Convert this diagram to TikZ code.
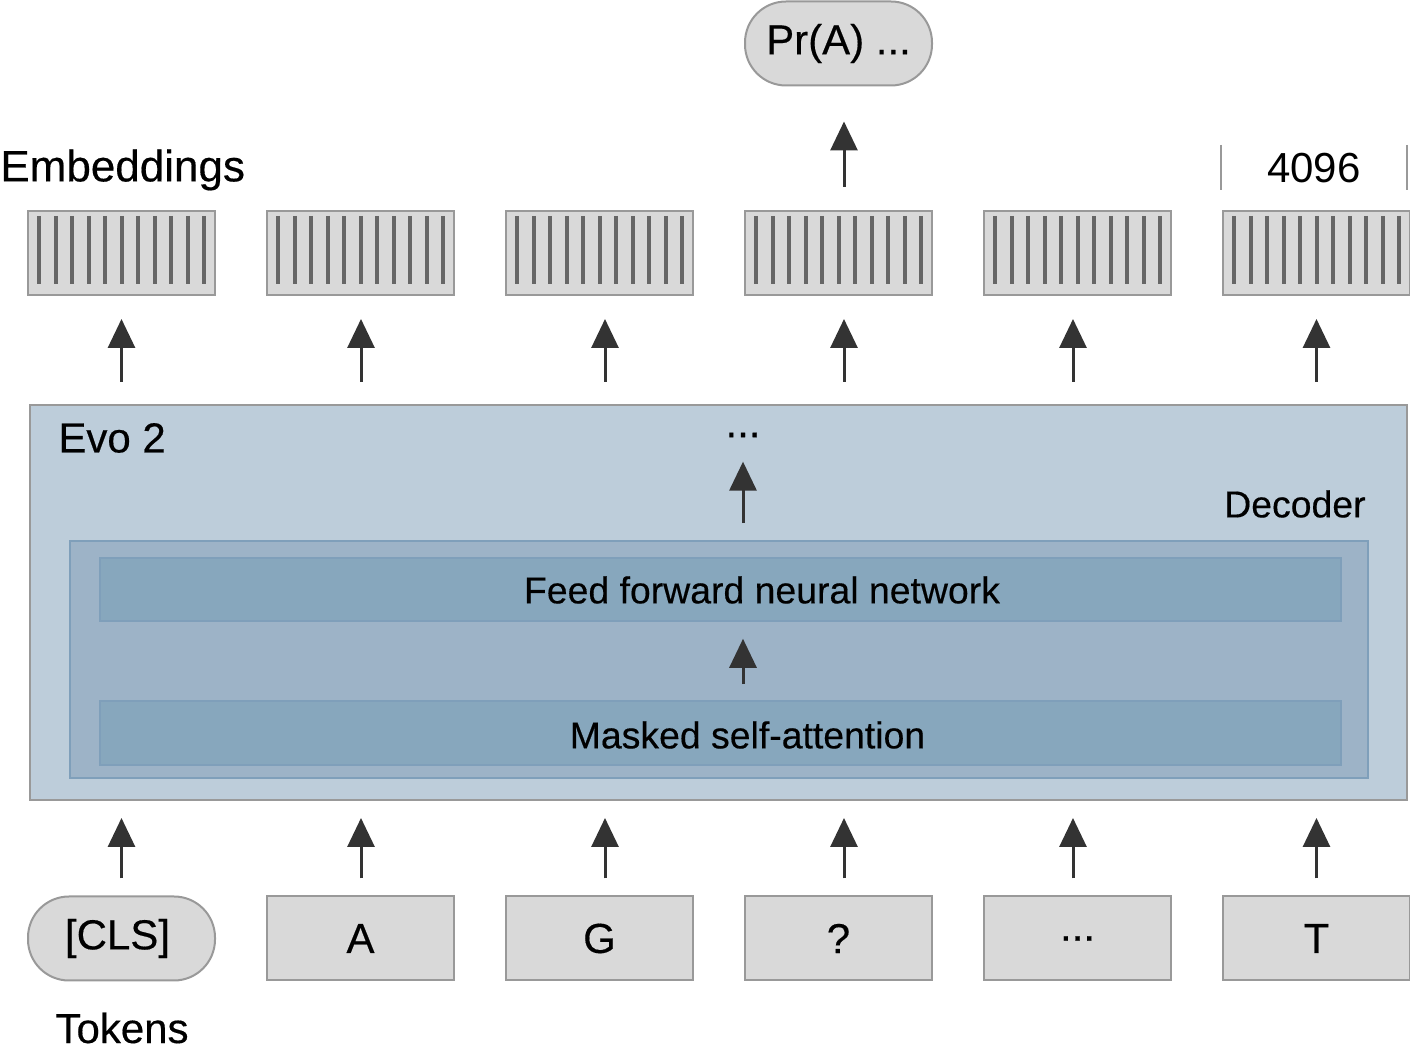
\documentclass[tikz,border=0pt]{standalone}
\usepackage{fontspec}
\setmainfont{Liberation Sans}
\newfontfamily\medfamily[FakeBold=0.35]{Liberation Sans}
\usepackage{tikz}
\usetikzlibrary{arrows.meta, positioning, calc}
\usepackage{xcolor}
\definecolor{boxgray}{HTML}{D9D9D9}
\definecolor{edgegray}{HTML}{999999}
\definecolor{bargray}{HTML}{666666}
\definecolor{arrowdark}{HTML}{333333}
\definecolor{evofill}{HTML}{BDCDDA}
\definecolor{decfill}{HTML}{9DB3C7}
\definecolor{decedge}{HTML}{7F9FBA}
\definecolor{layerfill}{HTML}{87A7BD}
\newcommand{\bigfont}{\medfamily\fontsize{21}{25}\selectfont}
\newcommand{\midfont}{\medfamily\fontsize{18.7}{22}\selectfont}
\newcommand{\tokdots}{...}

\begin{document}
\begin{tikzpicture}[x=0.5pt, y=-0.5pt,
  graybox/.style={rectangle, draw=edgegray, fill=boxgray, line width=1pt,
    minimum width=93.5pt, minimum height=42pt, inner sep=0pt, font=\bigfont},
  pillbox/.style={graybox, rounded corners=20.5pt},
  embbar/.style={draw=bargray, line width=2pt},
  arr/.style={draw=arrowdark, line width=1.5pt, -{Triangle[length=14.5pt, width=13.5pt]}},
  layerbox/.style={rectangle, draw=decedge, fill=layerfill, line width=0.8pt,
    minimum width=620.5pt, inner sep=0pt},
  plain/.style={inner sep=0pt, font=\bigfont}]
\useasboundingbox (0,0) rectangle (1410,1052);

% main block
\node[rectangle, draw=edgegray, fill=evofill, line width=1pt, inner sep=0pt,
      minimum width=688.5pt, minimum height=197.5pt] (evo) at (718.5,602.5) {};
\node[rectangle, draw=decedge, fill=decfill, line width=1pt, inner sep=0pt,
      minimum width=649pt, minimum height=118.5pt] (dec) at (719,659.5) {};
\node[layerbox, minimum height=31.5pt] (ffnn) at (720.5,589.5) {};
\node[layerbox, minimum height=32pt] (msa) at (720.5,733) {};
\node[plain, font=\midfont] (ffnntext) at (762,590) {Feed forward neural network};
\node[plain, font=\midfont] (msatext) at (747.5,735) {Masked self-attention};
\node[plain, anchor=west] (evolabel) at (58,438) {Evo 2};
\node[plain, anchor=east, font=\midfont] (declabel) at (1366,504) {Decoder};
\node[plain] (layerdots) at (743,435) {\tokdots};

\draw[arr, shorten <=8pt, shorten >=8.5pt] (msa.north -| layerdots) -- (ffnn.south -| layerdots);
\draw[arr, shorten <=17pt, shorten >=12pt] (ffnn.north -| layerdots) -- (layerdots.south);

% embeddings
\node[plain, anchor=west, font=\medfamily\fontsize{22}{26}\selectfont] (emblabel) at (0,170) {Embeddings};
\foreach \i/\dx in {0/0,1/0.5,2/5.5,3/5.5,4/-4.5,5/0} {
  \node[graybox] (emb\i) at (121.5+239*\i,253) {};
  \foreach \j in {0,...,10}
    \draw[embbar] ($(emb\i.north west)+(12+16.5*\j,6)$) -- ++(0,68);
  \draw[arr, shorten <=11pt, shorten >=11.5pt] ([xshift=\dx/2*1pt]evo.north -| emb\i.south) -- ([xshift=\dx/2*1pt]emb\i.south);
}
\coordinate (dimleft) at (1221,145);
\coordinate (dimright) at (1407,145);
\draw[draw=edgegray, line width=1pt] (dimleft) -- ++(0,45);
\draw[draw=edgegray, line width=1pt] (dimright) -- ++(0,45);
\node[plain, font=\fontsize{21}{25}\selectfont] (dimtext) at (1314,168) {4096};

% output
\node[pillbox] (prob) at (838.5,43.5) {Pr(A) \tokdots};
\draw[arr, shorten <=11.5pt, shorten >=17.5pt] ([xshift=2.75pt]emb3.north) -- ([xshift=2.75pt]prob.south);

% tokens
\node[pillbox] (tok0) at (121.5,938.5) {\hspace*{-4pt}[CLS]};
\foreach \lab [count=\i] in {A,G,?,\tokdots,T}
  \node[graybox] (tok\i) at (121.5+239*\i,938.5) {\lab};
\foreach \i/\dx in {0/0,1/0.5,2/5.5,3/5.5,4/-4.5,5/0}
  \draw[arr, shorten <=8.5pt, shorten >=8.5pt] ([xshift=\dx/2*1pt]tok\i.north) -- ([xshift=\dx/2*1pt]tok\i.north |- evo.south);
\node[plain] (toklabel) at (122,1028) {Tokens};
\end{tikzpicture}
\end{document}
